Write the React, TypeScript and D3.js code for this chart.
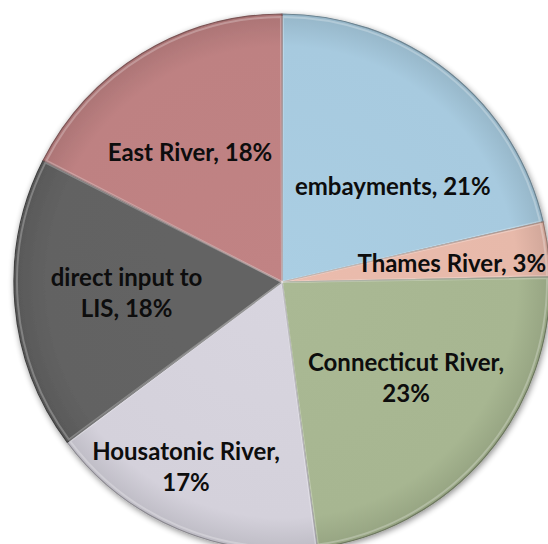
import React, { useEffect, useRef } from 'react';
import * as d3 from 'd3';

// slice order goes clockwise from 12 o'clock
const categories = ['embayments', 'Thames River', 'Connecticut River', 'Housatonic River', 'direct input to LIS', 'East River'];
const shares = [21.4, 3.3, 23.2, 16.9, 17.7, 17.5];
const labelLines = [
  ['embayments, 21%'],
  ['Thames River, 3%'],
  ['Connecticut River,', '23%'],
  ['Housatonic River,', '17%'],
  ['direct input to', 'LIS, 18%'],
  ['East River, 18%'],
];
const colors = ['#a7cadf', '#e7b9aa', '#a7b691', '#d4d1db', '#626262', '#be8182'];

// Excel "best fit" labels sit a bit off the centroid, nudge them
const labelNudge: [number, number][] = [[13, 28], [14, 1], [5, -6], [-35, 41], [1, -2], [-10, 5]];

const W = 548;
const H = 544;

const PieChart: React.FC = () => {
  const svgRef = useRef<SVGSVGElement | null>(null);

  useEffect(() => {
    if (!svgRef.current) return;
    const svg = d3.select(svgRef.current);
    svg.selectAll('*').remove();

    const cx = 282;
    const cy = 282;
    const radius = 268;

    const data = categories.map((name, i) => ({ name, value: shares[i], i }));

    const pie = d3.pie<typeof data[number]>()
      .sort(null)
      .value(d => d.value)
      .startAngle(0)
      .endAngle(2 * Math.PI);

    const arc = d3.arc<d3.PieArcDatum<typeof data[number]>>()
      .innerRadius(0)
      .outerRadius(radius);

    const labelArc = d3.arc<d3.PieArcDatum<typeof data[number]>>()
      .innerRadius(157)
      .outerRadius(157);

    const defs = svg.append('defs');

    const shadow = defs.append('filter')
      .attr('id', 'pieShadow')
      .attr('x', '-10%').attr('y', '-10%')
      .attr('width', '120%').attr('height', '120%');
    shadow.append('feGaussianBlur').attr('in', 'SourceAlpha').attr('stdDeviation', 3);
    shadow.append('feOffset').attr('dx', 1).attr('dy', 2).attr('result', 'blur');
    shadow.append('feComponentTransfer').append('feFuncA').attr('type', 'linear').attr('slope', 0.45);
    const merge = shadow.append('feMerge');
    merge.append('feMergeNode');
    merge.append('feMergeNode').attr('in', 'SourceGraphic');

    colors.forEach((c, i) => {
      const g = defs.append('radialGradient')
        .attr('id', `slice${i}`)
        .attr('gradientUnits', 'userSpaceOnUse')
        .attr('cx', 0).attr('cy', 0).attr('r', radius);
      g.append('stop').attr('offset', '0%').attr('stop-color', d3.color(c)!.brighter(0.05).formatHex());
      g.append('stop').attr('offset', '88%').attr('stop-color', c);
      g.append('stop').attr('offset', '100%').attr('stop-color', d3.color(c)!.darker(0.3).formatHex());
    });

    const g = svg.append('g').attr('transform', `translate(${cx},${cy})`);
    const arcs = pie(data);

    g.append('g')
      .attr('filter', 'url(#pieShadow)')
      .selectAll('path')
      .data(arcs)
      .enter().append('path')
        .attr('d', arc)
        .attr('fill', d => `url(#slice${d.data.i})`)
        .attr('stroke', d => d3.color(colors[d.data.i])!.darker(1.2).formatHex())
        .attr('stroke-width', 1.2)
        .attr('stroke-linejoin', 'round');

    // soft bevel highlight just inside each slice
    g.append('g')
      .selectAll('path')
      .data(arcs)
      .enter().append('path')
        .attr('d', d3.arc<d3.PieArcDatum<typeof data[number]>>().innerRadius(0).outerRadius(radius - 3).padAngle(0.008))
        .attr('fill', 'none')
        .attr('stroke', '#ffffff')
        .attr('stroke-opacity', 0.25)
        .attr('stroke-width', 2);

    const labels = g.append('g')
      .attr('font-family', 'Lato, "Open Sans", sans-serif')
      .attr('font-weight', 700)
      .attr('font-size', 24)
      .attr('fill', '#0d0d0d')
      .attr('text-anchor', 'middle');

    arcs.forEach(d => {
      const [x, y] = labelArc.centroid(d);
      const [nx, ny] = labelNudge[d.data.i];
      const lines = labelLines[d.data.i];
      const lineH = 31;
      const top = y + ny - ((lines.length - 1) * lineH) / 2 + 8;
      lines.forEach((t, k) => {
        labels.append('text')
          .attr('x', x + nx)
          .attr('y', top + k * lineH)
          .text(t);
      });
    });
  }, []);

  return (
    <svg
      ref={svgRef}
      width={W}
      height={H}
      style={{ position: 'absolute', left: 0, top: 0, background: '#ffffff' }}
    />
  );
};

export default function App() {
  return <PieChart />;
}
